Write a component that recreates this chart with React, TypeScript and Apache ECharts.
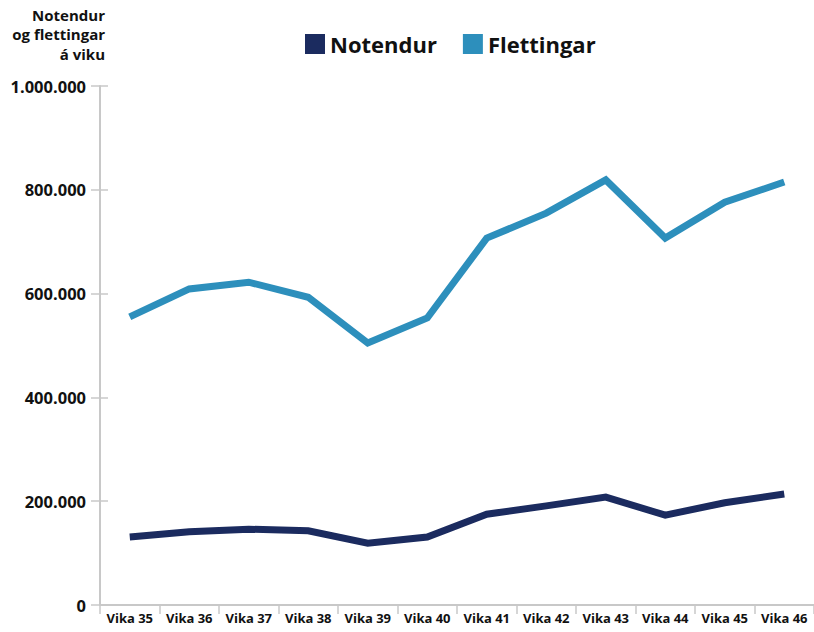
import React, { useEffect, useRef } from "react";
import * as echarts from "echarts";

const categories = ["Vika 35", "Vika 36", "Vika 37", "Vika 38", "Vika 39", "Vika 40", "Vika 41", "Vika 42", "Vika 43", "Vika 44", "Vika 45", "Vika 46"];
const notendur = [131000, 141000, 146000, 143000, 119000, 131000, 175000, 191000, 208000, 173000, 197000, 214000];
const flettingar = [555000, 609000, 622000, 593000, 505000, 553000, 707000, 755000, 819000, 707000, 776000, 815000];
const titleLines = ["Notendur", "og flettingar", "á viku"];

const FONT = "'Open Sans', 'Noto Sans', sans-serif";
const NAVY = "#1b2b5f";
const BLUE = "#2d8fbc";

function fmt(v: number): string {
  return String(Math.round(v)).replace(/\B(?=(\d{3})+(?!\d))/g, ".");
}

export default function App() {
  const ref = useRef<HTMLDivElement>(null);
  useEffect(() => {
    if (!ref.current) return;
    const chart = echarts.init(ref.current, null, { renderer: "svg" });
    chart.setOption({
      animation: false,
      backgroundColor: "#ffffff",
      textStyle: { fontFamily: FONT },
      graphic: titleLines.map((t, i) => ({
        type: "text",
        right: 814 - 105,
        top: 7 + i * 19.5,
        style: { text: t, font: `bold 15px ${FONT}`, fill: "#111", textAlign: "right" },
      })),
      legend: {
        left: 300,
        top: 28,
        icon: "rect",
        itemWidth: 20,
        itemHeight: 20,
        itemGap: 26,
        textStyle: { fontSize: 22, fontWeight: "bold", color: "#111", fontFamily: FONT },
        data: ["Notendur", "Flettingar"],
      },
      grid: { left: 100, right: 0, top: 86, bottom: 27, containLabel: false },
      xAxis: {
        type: "category",
        data: categories,
        boundaryGap: true,
        axisLine: { lineStyle: { color: "#c8c8c8", width: 2 } },
        axisTick: { show: true, interval: 0, length: 9, lineStyle: { color: "#c8c8c8", width: 1.5 } },
        axisLabel: { interval: 0, color: "#111", fontSize: 13, fontWeight: "bold", fontFamily: FONT, margin: 6 },
      },
      yAxis: [
        {
          type: "value",
          min: 0,
          max: 1000000,
          interval: 200000,
          axisLine: { show: true, lineStyle: { color: "#c8c8c8", width: 2 } },
          axisTick: { show: true, length: 9, lineStyle: { color: "#c8c8c8", width: 1.5 } },
          splitLine: { show: false },
          axisLabel: { color: "#111", fontSize: 16.5, fontWeight: "bold", fontFamily: FONT, margin: 14, formatter: (v: number) => fmt(v) },
        },
        {
          type: "value",
          position: "left",
          min: 0,
          max: 1000000,
          interval: 200000,
          axisLine: { show: false },
          axisTick: { show: true, inside: true, length: 8, lineStyle: { color: "#c8c8c8", width: 1.5 } },
          splitLine: { show: false },
          axisLabel: { show: false },
        },
      ],
      series: [
        {
          name: "Notendur",
          type: "line",
          data: notendur,
          symbol: "none",
          color: NAVY,
          lineStyle: { width: 7, color: NAVY, cap: "butt", join: "miter" },
        },
        {
          name: "Flettingar",
          type: "line",
          data: flettingar,
          symbol: "none",
          color: BLUE,
          lineStyle: { width: 7, color: BLUE, cap: "butt", join: "miter" },
        },
      ],
    });
    return () => chart.dispose();
  }, []);
  return <div ref={ref} style={{ width: 814, height: 632, position: "absolute", left: 0, top: 0 }} />;
}
